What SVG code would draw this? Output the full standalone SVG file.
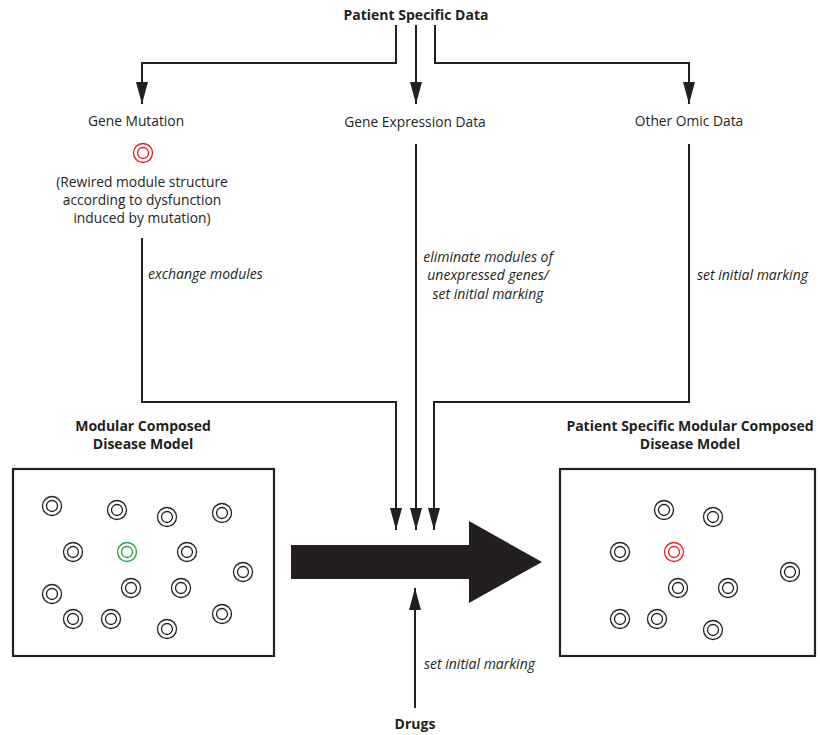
<svg xmlns="http://www.w3.org/2000/svg" width="820" height="735" viewBox="0 0 820 735">
<style>
text{font-family:"Open Sans","Liberation Sans",sans-serif;font-size:13.8px;fill:#231f20}
.b{font-weight:bold;font-size:14px}
.i{font-style:italic;font-size:14px}
.c{text-anchor:middle}
.ln{fill:none;stroke:#231f20;stroke-width:2}
.box{fill:#fff;stroke:#231f20;stroke-width:2.2}
.m{fill:none;stroke-width:1.3}
use.mod{stroke:#231f20}
use.red{stroke:#e31e24}
use.grn{stroke:#2a9a47}
</style>
<defs>
<marker id="ah" markerUnits="userSpaceOnUse" markerWidth="22" markerHeight="12" refX="22" refY="6" orient="auto">
<path d="M0,0 L22,6 L0,12 z" fill="#231f20"/>
</marker>
<g id="mod"><circle r="9.5" class="m"/><circle r="5.5" class="m"/></g>
</defs>

<g id="connectors">
<path class="ln" d="M396,25 V63 H142 V104" marker-end="url(#ah)"/>
<path class="ln" d="M416,25 V104" marker-end="url(#ah)"/>
<path class="ln" d="M435,25 V63 H689 V104" marker-end="url(#ah)"/>
<path class="ln" d="M142,238 V402 H396 V530" marker-end="url(#ah)"/>
<path class="ln" d="M416,144 V530" marker-end="url(#ah)"/>
<path class="ln" d="M689,144 V402 H434 V530" marker-end="url(#ah)"/>
<path class="ln" d="M415,708 V588" marker-end="url(#ah)"/>
<text class="i" x="148" y="279">exchange modules</text>
<text class="i c" x="488" y="262">eliminate modules of</text>
<text class="i c" x="488" y="280">unexpressed genes/</text>
<text class="i c" x="488" y="299">set initial marking</text>
<text class="i" x="697" y="280">set initial marking</text>
<text class="i" x="424" y="669">set initial marking</text>
</g>

<g id="patient-data"><text class="b c" x="416" y="20">Patient Specific Data</text></g>

<g id="gene-mutation">
<text class="c" x="136" y="126">Gene Mutation</text>
<use href="#mod" class="red" x="143" y="153"/>
<text class="c" x="142" y="187">(Rewired module structure</text>
<text class="c" x="142" y="205">according to dysfunction</text>
<text class="c" x="142" y="223">induced by mutation)</text>
</g>

<g id="gene-expression"><text class="c" x="415" y="127">Gene Expression Data</text></g>
<g id="other-omic"><text class="c" x="689" y="126">Other Omic Data</text></g>

<g id="modular-model">
<text class="b c" x="143" y="431">Modular Composed</text>
<text class="b c" x="143" y="449">Disease Model</text>
<rect class="box" x="13" y="469" width="261" height="187"/>
<use href="#mod" class="mod" x="52" y="506"/>
<use href="#mod" class="mod" x="117" y="510"/>
<use href="#mod" class="mod" x="167" y="517"/>
<use href="#mod" class="mod" x="222" y="513"/>
<use href="#mod" class="mod" x="73" y="552"/>
<use href="#mod" class="grn" x="127" y="552"/>
<use href="#mod" class="mod" x="187" y="552"/>
<use href="#mod" class="mod" x="243" y="572"/>
<use href="#mod" class="mod" x="52" y="594"/>
<use href="#mod" class="mod" x="131" y="588"/>
<use href="#mod" class="mod" x="181" y="588"/>
<use href="#mod" class="mod" x="73" y="619"/>
<use href="#mod" class="mod" x="111" y="619"/>
<use href="#mod" class="mod" x="222" y="614"/>
<use href="#mod" class="mod" x="167" y="629"/>
</g>

<g id="transform-arrow">
<polygon points="291,545 469,545 469,521 542,562 469,603 469,579 291,579" fill="#231f20"/>
</g>

<g id="patient-model">
<text class="b c" x="690" y="431">Patient Specific Modular Composed</text>
<text class="b c" x="690" y="449">Disease Model</text>
<rect class="box" x="560" y="469" width="255" height="187"/>
<use href="#mod" class="mod" x="664" y="510"/>
<use href="#mod" class="mod" x="713" y="517"/>
<use href="#mod" class="mod" x="620" y="552"/>
<use href="#mod" class="red" x="674" y="552"/>
<use href="#mod" class="mod" x="790" y="572"/>
<use href="#mod" class="mod" x="678" y="588"/>
<use href="#mod" class="mod" x="728" y="588"/>
<use href="#mod" class="mod" x="620" y="619"/>
<use href="#mod" class="mod" x="657" y="619"/>
<use href="#mod" class="mod" x="713" y="630"/>
</g>

<g id="drugs"><text class="b c" x="415" y="729">Drugs</text></g>
</svg>
